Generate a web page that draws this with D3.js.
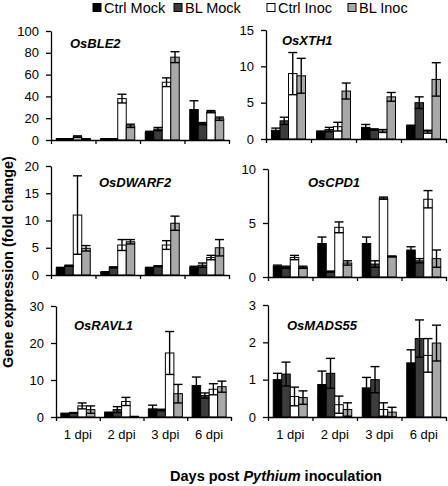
<!DOCTYPE html>
<html><head><meta charset="utf-8">
<script src="https://cdn.jsdelivr.net/npm/d3@7"></script>
<style>
html,body{margin:0;padding:0;background:#fff;}
svg{display:block;font-family:"Liberation Sans",Arial,sans-serif;}
</style></head>
<body><svg id="c" width="448" height="486"></svg>
<script>
// ---------- data ----------
const groups = ["1 dpi","2 dpi","3 dpi","6 dpi"];
const series = ["Ctrl Mock","BL Mock","Ctrl Inoc","BL Inoc"];
const genes  = ["OsBLE2","OsXTH1","OsDWARF2","OsCPD1","OsRAVL1","OsMADS55"];
const yMaxes = [100,15,20,10,30,3];
const ySteps = [20,5,5,5,10,1];

// mean[group][series], err[group][series]
const ble2Mean = [[1,1,3,1],[1,1,38,13],[7,10,53,76],[28,15,26,19.5]];
const ble2Err  = [[0.2,0.2,0.8,0.2],[0.2,0.2,4,1.5],[1,1.5,4,5],[8,1,1,1.5]];
const xth1Mean = [[1.2,2.5,9.0,8.7],[1.0,1.3,1.7,6.6],[1.6,1.3,1.1,5.8],[1.8,5.0,1.0,8.2]];
const xth1Err  = [[0.3,0.5,2.9,2.4],[0.1,0.3,0.6,1.1],[0.4,0.1,0.2,0.6],[0.1,0.8,0.2,2.3]];
const dwarf2Mean = [[1.3,1.7,11.0,4.9],[0.5,1.4,5.5,6.1],[1.3,1.6,5.5,9.5],[1.4,1.8,3.2,5.0]];
const dwarf2Err  = [[0.1,0.1,7.2,0.5],[0.1,0.1,1.0,0.4],[0.1,0.1,0.8,1.3],[0.2,0.4,0.4,1.5]];
const cpd1Mean = [[1.0,0.9,1.8,0.9],[3.1,0.5,4.6,1.3],[3.1,1.2,7.3,1.9],[2.5,1.5,7.2,1.7]];
const cpd1Err  = [[0.1,0.1,0.2,0.1],[0.6,0.05,0.5,0.2],[0.6,0.3,0.1,0.05],[0.3,0.2,0.8,0.8]];
const ravl1Mean = [[0.9,1.1,3.0,2.0],[1.2,2.0,4.2,0.1],[2.2,1.9,17.3,6.3],[8.5,5.8,7.5,8.2]];
const ravl1Err  = [[0.1,0.1,0.8,1.0],[0.1,0.8,1.1,0.05],[1.0,0.2,5.8,2.5],[2.3,0.7,1.5,1.5]];
const mads55Mean = [[1.0,1.15,0.55,0.52],[0.87,1.17,0.33,0.2],[0.78,1.0,0.2,0.13],[1.45,2.1,1.65,1.98]];
const mads55Err  = [[0.17,0.32,0.25,0.18],[0.36,0.4,0.23,0.18],[0.28,0.35,0.18,0.13],[0.35,0.5,0.45,0.48]];

const means = [ble2Mean,xth1Mean,dwarf2Mean,cpd1Mean,ravl1Mean,mads55Mean];
const errs  = [ble2Err,xth1Err,dwarf2Err,cpd1Err,ravl1Err,mads55Err];

// ---------- layout ----------
const colors = ["#000000","#3c3c3c","#ffffff","#a8a8a8"];
const layout = [
  {x0:51, x1:229, yTop:31,  yBot:140, tx:70,  ty:48},
  {x0:266,x1:446, yTop:30,  yBot:139, tx:282, ty:45},
  {x0:51, x1:229, yTop:166, yBot:275, tx:99,  ty:187},
  {x0:268,x1:446, yTop:169, yBot:277, tx:308, ty:187},
  {x0:56, x1:231, yTop:306, yBot:417, tx:74,  ty:330},
  {x0:268,x1:446, yTop:305, yBot:417, tx:287, ty:330}
];
const svg = d3.select("#c");
const FONT = '"Liberation Sans",Arial,sans-serif';

genes.forEach((gene,i)=>{
  const L = layout[i];
  const g = svg.append("g");
  const x = d3.scaleBand().domain(groups).range([L.x0,L.x1]).padding(0);
  const bw = x.bandwidth();
  const barW = 8.5;
  const xs = d3.scaleBand().domain(series).range([(bw-4*barW)/2,(bw+4*barW)/2]).padding(0);
  const y = d3.scaleLinear().domain([0,yMaxes[i]]).range([L.yBot,L.yTop]);

  const data = [];
  groups.forEach((gr,gi)=>series.forEach((s,si)=>data.push({gr,s,si,m:means[i][gi][si],e:errs[i][gi][si]})));
  g.selectAll("rect.bar").data(data).join("rect")
    .attr("x",d=>x(d.gr)+xs(d.s)).attr("width",xs.bandwidth())
    .attr("y",d=>y(d.m)).attr("height",d=>y(0)-y(d.m))
    .attr("fill",d=>colors[d.si]).attr("stroke","#000").attr("stroke-width",1);

  const eb = g.selectAll("g.eb").data(data).join("g").attr("stroke","#000").attr("stroke-width",1.4);
  const cx = d=>x(d.gr)+xs(d.s)+xs.bandwidth()/2;
  eb.append("line").attr("x1",cx).attr("x2",cx)
    .attr("y1",d=>y(Math.max(0,d.m-d.e))).attr("y2",d=>y(d.m+d.e));
  eb.append("line").attr("x1",d=>cx(d)-4.5).attr("x2",d=>cx(d)+4.5)
    .attr("y1",d=>y(d.m+d.e)).attr("y2",d=>y(d.m+d.e));
  eb.append("line").attr("x1",d=>cx(d)-4.5).attr("x2",d=>cx(d)+4.5)
    .attr("y1",d=>y(Math.max(0,d.m-d.e))).attr("y2",d=>y(Math.max(0,d.m-d.e)));

  const ticks = d3.range(0,yMaxes[i]+1e-9,ySteps[i]);
  const ya = g.append("g").attr("transform",`translate(${L.x0},0)`)
    .call(d3.axisLeft(y).tickValues(ticks).tickSize(5).tickSizeOuter(0).tickPadding(7).tickFormat(d3.format("d")));
  ya.selectAll("text").attr("font-size",13).attr("font-family",FONT).attr("fill","#000");
  ya.selectAll("line,path").attr("stroke","#000").attr("stroke-width",1.3);

  const xl = d3.scaleLinear().domain([0,groups.length]).range([L.x0,L.x1]);
  const xa = g.append("g").attr("transform",`translate(0,${L.yBot})`)
    .call(d3.axisBottom(xl).tickValues(d3.range(0,groups.length+1)).tickSize(4).tickSizeOuter(0).tickFormat(""));
  xa.selectAll("line,path").attr("stroke","#000").attr("stroke-width",1.3);

  if(i>=4){
    const xb = g.append("g").attr("transform",`translate(0,${L.yBot})`)
      .call(d3.axisBottom(x).tickSize(0).tickPadding(13));
    xb.select("path").remove();
    xb.selectAll("text").attr("font-size",13).attr("font-family",FONT).attr("fill","#000");
  }

  g.append("text").attr("x",L.tx).attr("y",L.ty).text(gene)
    .attr("font-size",13).attr("font-weight","bold").attr("font-style","italic").attr("font-family",FONT);
});

const legX = [93,174,267,348];
const leg = svg.append("g");
series.forEach((s,i)=>{
  leg.append("rect").attr("x",legX[i]).attr("y",3.5).attr("width",8).attr("height",8)
    .attr("fill",colors[i]).attr("stroke","#000").attr("stroke-width",1);
  leg.append("text").attr("x",legX[i]+11).attr("y",13).text(s)
    .attr("font-size",14.5).attr("font-family",FONT);
});

svg.append("text").attr("transform","translate(13,262) rotate(-90)").attr("text-anchor","middle")
  .attr("font-size",14.5).attr("font-weight","bold").attr("font-family",FONT).text("Gene expression (fold change)");
const xt = svg.append("text").attr("x",276).attr("y",481).attr("text-anchor","middle")
  .attr("font-size",14.5).attr("font-weight","bold").attr("font-family",FONT);
xt.append("tspan").text("Days post ");
xt.append("tspan").attr("font-style","italic").text("Pythium");
xt.append("tspan").text(" inoculation");
</script></body></html>
